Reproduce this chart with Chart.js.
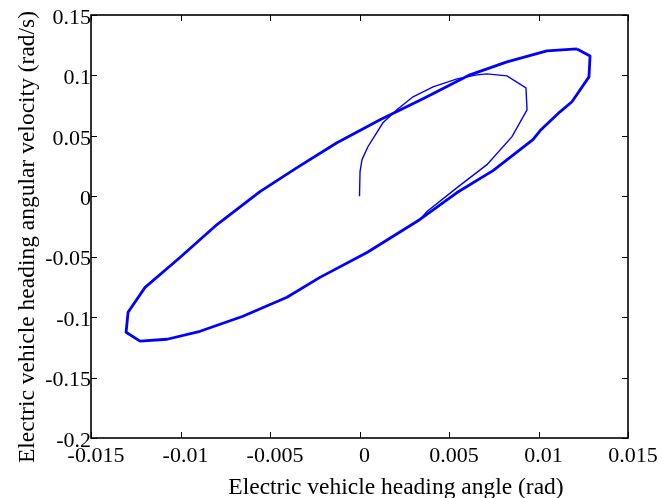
<!DOCTYPE html>
<html>
<head>
<meta charset="utf-8">
<script src="https://cdn.jsdelivr.net/npm/chart.js@4/dist/chart.umd.min.js"></script>
<style>
  html, body { margin: 0; padding: 0; background: #fff; }
  canvas { display: block; }
</style>
</head>
<body>
<canvas id="phase" width="665" height="498"></canvas>
<script>
// Heading angle (rad) and heading angular velocity (rad/s) of the vehicle.
// Start-up transient from the origin until it joins the steady cycle.
const transientAngle = [0, 0.00003, 0.00014, 0.00047, 0.00131, 0.00209, 0.00299, 0.00411, 0.00545, 0.00656, 0.00712, 0.00824, 0.00930, 0.00936, 0.00852, 0.00712, 0.00545, 0.00377, 0.00338];
const transientRate  = [0, 0.0204, 0.0303, 0.0410, 0.0608, 0.0716, 0.0823, 0.0906, 0.0972, 0.1005, 0.1013, 0.0996, 0.0897, 0.0716, 0.0493, 0.0262, 0.0072, -0.0126, -0.0192];

// Steady limit cycle (traversed repeatedly).
const cycleAngle = [0.01215, 0.01288, 0.01282, 0.01187, 0.01120, 0.01014, 0.00969, 0.00746, 0.00545, 0.00338, 0.00042, -0.00221, -0.00405, -0.00651, -0.00891, -0.01075, -0.01226, -0.01304, -0.01293, -0.01198, -0.01003, -0.00796, -0.00556, -0.00349, -0.00126, 0.00115, 0.00366, 0.00617, 0.00824, 0.01047, 0.01215];
const cycleRate  = [0.1219, 0.1161, 0.0988, 0.0782, 0.0699, 0.0551, 0.0468, 0.0212, 0.0031, -0.0192, -0.0465, -0.0671, -0.0836, -0.0993, -0.1117, -0.1183, -0.1199, -0.1125, -0.0960, -0.0754, -0.0506, -0.0234, 0.0039, 0.0237, 0.0443, 0.0633, 0.0815, 0.1005, 0.1112, 0.1203, 0.1219];

const xTickValues = [-0.015, -0.01, -0.005, 0, 0.005, 0.01, 0.015];
const xTickLabels = ['-0.015', '-0.01', '-0.005', '0', '0.005', '0.01', '0.015'];
const yTickValues = [-0.2, -0.15, -0.1, -0.05, 0, 0.05, 0.1, 0.15];
const yTickLabels = ['-0.2', '-0.15', '-0.1', '-0.05', '0', '0.05', '0.1', '0.15'];

const xTitle = 'Electric vehicle heading angle (rad)';
const yTitle = 'Electric vehicle heading angular velocity (rad/s)';

const SERIF = '"Times New Roman", "Liberation Serif", serif';

const toPoints = (xs, ys) => xs.map((x, i) => ({ x: x, y: ys[i] }));

// Box frame, inward tick marks on all four sides, and the axis titles.
const frameAndTitles = {
  id: 'frameAndTitles',
  afterDraw(chart) {
    const { ctx, chartArea: a, scales } = chart;
    const xs = scales.x, ys = scales.y;
    const tl = 6;
    ctx.save();
    ctx.strokeStyle = '#000';
    ctx.lineWidth = 1;
    ctx.beginPath();
    xTickValues.forEach(v => {
      const px = Math.round(xs.getPixelForValue(v)) + 0.5;
      ctx.moveTo(px, a.bottom); ctx.lineTo(px, a.bottom - tl);
      ctx.moveTo(px, a.top); ctx.lineTo(px, a.top + tl);
    });
    yTickValues.forEach(v => {
      const py = Math.round(ys.getPixelForValue(v)) + 0.5;
      ctx.moveTo(a.left, py); ctx.lineTo(a.left + tl, py);
      ctx.moveTo(a.right, py); ctx.lineTo(a.right - tl, py);
    });
    ctx.stroke();
    ctx.lineWidth = 1.6;
    ctx.strokeRect(a.left, a.top, a.right - a.left, a.bottom - a.top);

    ctx.fillStyle = '#000';
    ctx.font = '23.5px ' + SERIF;
    ctx.textAlign = 'center';
    ctx.textBaseline = 'alphabetic';
    ctx.fillText(xTitle, 396, 494);
    ctx.translate(34, 237);
    ctx.rotate(-Math.PI / 2);
    ctx.fillText(yTitle, 0, 0);
    ctx.restore();
  }
};

new Chart(document.getElementById('phase'), {
  type: 'scatter',
  data: {
    datasets: [
      {
        data: toPoints(transientAngle, transientRate),
        showLine: true,
        borderColor: '#0000ff',
        borderWidth: 1.4,
        pointRadius: 0,
        tension: 0,
        fill: false
      },
      {
        data: toPoints(cycleAngle, cycleRate),
        showLine: true,
        borderColor: '#0000ff',
        borderWidth: 2.8,
        pointRadius: 0,
        tension: 0,
        fill: false,
        borderJoinStyle: 'round'
      }
    ]
  },
  options: {
    responsive: false,
    devicePixelRatio: 1,
    animation: false,
    layout: { padding: { top: 15, right: 37, left: 0, bottom: 0 } },
    plugins: { legend: { display: false }, tooltip: { enabled: false } },
    scales: {
      x: {
        type: 'linear',
        min: -0.015,
        max: 0.015,
        afterBuildTicks: s => { s.ticks = xTickValues.map(v => ({ value: v })); },
        afterFit: s => { s.height = 60; },
        grid: { display: false, drawTicks: false },
        border: { display: false },
        ticks: {
          autoSkip: false,
          maxRotation: 0,
          padding: 5,
          labelOffset: 5,
          color: '#000',
          font: { family: SERIF, size: 22 },
          callback: (v, i) => xTickLabels[i]
        }
      },
      y: {
        type: 'linear',
        min: -0.2,
        max: 0.15,
        afterBuildTicks: s => { s.ticks = yTickValues.map(v => ({ value: v })); },
        afterFit: s => { s.width = 91; },
        grid: { display: false, drawTicks: false },
        border: { display: false },
        ticks: {
          autoSkip: false,
          padding: 0,
          labelOffset: 3,
          color: '#000',
          font: { family: SERIF, size: 22 },
          callback: (v, i) => yTickLabels[i]
        }
      }
    }
  },
  plugins: [frameAndTitles]
});
</script>
</body>
</html>
